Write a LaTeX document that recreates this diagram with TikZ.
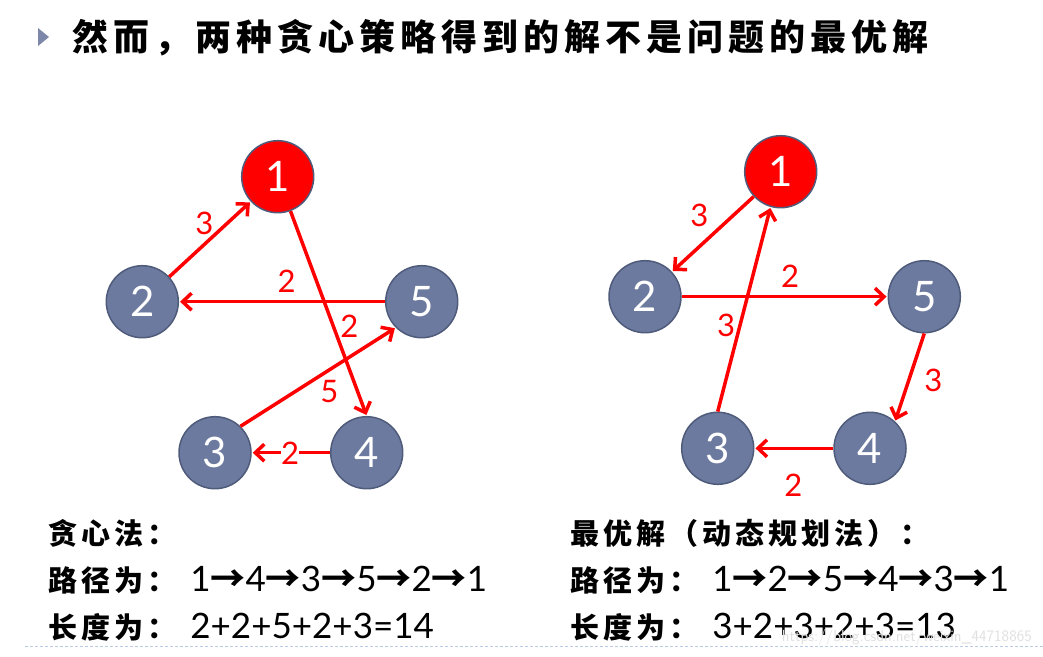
\documentclass[tikz,border=0pt]{standalone}
\usepackage{fontspec}
\setmainfont{Lato}
\newfontfamily\cjk{Noto Sans CJK SC}
\newfontfamily\cjkt[LetterSpace=14]{Noto Sans CJK SC}
\usetikzlibrary{arrows.meta}
\definecolor{nodefill}{HTML}{6D7A9F}
\definecolor{nodeline}{HTML}{4F5B7A}
\definecolor{dashblue}{HTML}{B8CCE4}
\tikzset{
  vtx/.style={circle, minimum size=72pt, inner sep=0pt, fill=nodefill, draw=nodeline, line width=1.5pt, text=white, font=\fontsize{42}{42}\selectfont},
  startvtx/.style={vtx, fill=red},
  edge/.style={draw=red, line width=3.5pt, -{Straight Barb[length=9pt,width=17pt,line width=3.5pt]}, shorten >=1pt},
  elabel/.style={text=red, font=\fontsize{31}{31}\selectfont, inner sep=1pt},
  cjkrow/.style={anchor=west, inner sep=0pt, font=\cjkt\bfseries\fontsize{29}{29}\selectfont},
}
\newcommand{\nums}{\hspace{14pt}\fontsize{35}{35}\selectfont\rmfamily\mdseries}
\newcommand{\arr}{{\cjk\bfseries →}}
\begin{document}
\begin{tikzpicture}[x=1pt,y=-1pt]
\useasboundingbox (0,0) rectangle (1043,656);
% title
\fill[nodefill!90] (38,28) -- (49,37) -- (38,46) -- cycle;
\node[anchor=west, inner sep=0pt, font=\cjkt\bfseries\fontsize{36}{36}\selectfont] (title) at (72,38) {然而，两种贪心策略得到的解不是问题的最优解};
% left graph
\node[startvtx] (l1) at (277.7,176.7) {1};
\node[vtx] (l2) at (142.3,301.7) {2};
\node[vtx] (l5) at (421.7,301.7) {5};
\node[vtx] (l3) at (215,452.7) {3};
\node[vtx] (l4) at (366.7,452.7) {4};
\draw[edge] (l2) -- (l1);
\draw[edge] (l1) -- (l4.north);
\draw[edge] (l3.46) -- (l5.225);
\draw[edge] (l5) -- (l2);
\draw[edge] (l4) -- (l3);
\node[elabel] (la) at (204.3,223.3) {3};
\node[elabel] (lb) at (286.7,281.7) {2};
\node[elabel] (lc) at (349.3,326.7) {2};
\node[elabel] (ld) at (329.3,391.7) {5};
\node[elabel, fill=white, inner xsep=0pt] (le) at (290,453.3) {2};
% right graph
\node[startvtx] (r1) at (780.7,171.7) {1};
\node[vtx] (r2) at (645,296.7) {2};
\node[vtx] (r5) at (924.3,296.7) {5};
\node[vtx] (r3) at (717.7,448.3) {3};
\node[vtx] (r4) at (870,448.3) {4};
\draw[edge] (r1) -- (r2);
\draw[edge] (r2) -- (r5);
\draw[edge] (r5.south) -- (r4.47);
\draw[edge] (r4) -- (r3);
\draw[edge] (r3.north) -- (r1.254);
\node[elabel] (ra) at (699.3,215) {3};
\node[elabel] (rb) at (790,276.7) {2};
\node[elabel] (rc) at (726,325) {3};
\node[elabel] (rd) at (933.3,380) {3};
\node[elabel] (re) at (793.3,485) {2};
% bottom text
\node[cjkrow] (t1) at (48,533) {贪心法：};
\node[cjkrow] (t2) at (48,580) {路径为：\nums 1\arr 4\arr 3\arr 5\arr 2\arr 1};
\node[cjkrow] (t3) at (48,627) {长度为：\nums 2+2+5+2+3=14};
\node[cjkrow] (u1) at (570,533) {最优解（动态规划法）：};
\node[cjkrow] (u2) at (570,580) {路径为：\nums 1\arr 2\arr 5\arr 4\arr 3\arr 1};
\node[cjkrow] (u3) at (570,627) {长度为：\nums 3+2+3+2+3=13};
\node[anchor=east, inner sep=0pt, text=black!12, font=\sffamily\fontsize{16}{16}\selectfont] (wm) at (1032,637) {https://blog.csdn.net/weixin\_44718865};
\draw[dashblue, line width=1pt, dash pattern=on 3pt off 2pt] (25,646) -- (1043,646);
\end{tikzpicture}
\end{document}
